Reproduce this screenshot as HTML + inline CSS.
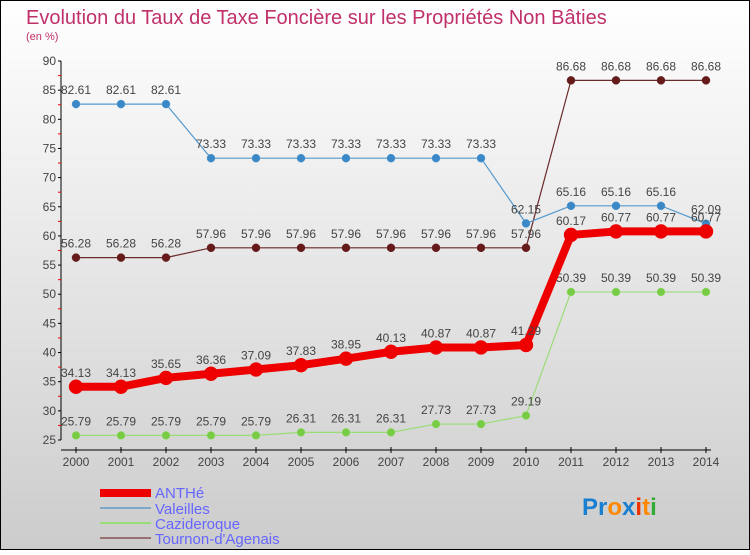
<!DOCTYPE html>
<html><head><meta charset="utf-8"><style>
body{margin:0}
#c{width:750px;height:550px;position:relative;font-family:"Liberation Sans",sans-serif}
</style></head><body>
<div id="c">
<svg width="750" height="550" id="svg">
<defs><linearGradient id="bg" x1="0" y1="0" x2="0" y2="1"><stop offset="0" stop-color="#ffffff"/><stop offset="1" stop-color="#cccccc"/></linearGradient></defs>
<rect x="0.5" y="0.5" width="749" height="549" fill="url(#bg)" stroke="#000"/>
<text x="26" y="24" font-size="20" fill="#c0306a">Evolution du Taux de Taxe Foncière sur les Propriétés Non Bâties</text>
<text x="26" y="40" font-size="11" fill="#c0306a">(en %)</text>
<g id="axes"></g><g id="series"></g>
<g>
<rect x="100" y="489" width="51" height="8" fill="#ee0000"/>
<text x="155" y="498" font-size="15" fill="#6666ff">ANTHé</text>
<rect x="100" y="507" width="51" height="2" fill="#7fa8c8"/>
<text x="155" y="514" font-size="15" fill="#6666ff">Valeilles</text>
<rect x="100" y="522" width="51" height="2" fill="#99dd77"/>
<text x="155" y="529" font-size="15" fill="#6666ff">Cazideroque</text>
<rect x="100" y="537" width="51" height="2" fill="#997070"/>
<text x="155" y="544" font-size="15" fill="#6666ff">Tournon-d'Agenais</text>
</g>
<text x="582" y="515" font-size="24" font-weight="bold"><tspan fill="#1a7fd0">Pr</tspan><tspan fill="#ff8800">o</tspan><tspan fill="#1a7fd0">x</tspan><tspan fill="#ee3300">i</tspan><tspan fill="#ff8800">t</tspan><tspan fill="#33aa33">i</tspan></text>
</svg>
</div>
<script>
const years=[2000,2001,2002,2003,2004,2005,2006,2007,2008,2009,2010,2011,2012,2013,2014];
const yTicks=[25,30,35,40,45,50,55,60,65,70,75,80,85,90];
const anthe=[34.13,34.13,35.65,36.36,37.09,37.83,38.95,40.13,40.87,40.87,41.29,60.17,60.77,60.77,60.77];
const valeilles=[82.61,82.61,82.61,73.33,73.33,73.33,73.33,73.33,73.33,73.33,62.15,65.16,65.16,65.16,62.09];
const cazideroque=[25.79,25.79,25.79,25.79,25.79,26.31,26.31,26.31,27.73,27.73,29.19,50.39,50.39,50.39,50.39];
const tournon=[56.28,56.28,56.28,57.96,57.96,57.96,57.96,57.96,57.96,57.96,57.96,86.68,86.68,86.68,86.68];
const NS="http://www.w3.org/2000/svg";
const X=i=>76+i*45;
const Y=v=>440-(v-25)*(379/65);
function mk(t,a,p){const e=document.createElementNS(NS,t);for(const k in a)e.setAttribute(k,a[k]);p.appendChild(e);return e;}
const ax=document.getElementById('axes');
mk('line',{x1:61,y1:61,x2:61,y2:440,stroke:'#000'},ax);
mk('line',{x1:61,y1:450,x2:711,y2:450,stroke:'#000'},ax);
yTicks.forEach((v,k)=>{
  mk('line',{x1:58,y1:Y(v),x2:61,y2:Y(v),stroke:'#000'},ax);
  if(k<yTicks.length-1) mk('line',{x1:58,y1:Y(v+2.5),x2:61,y2:Y(v+2.5),stroke:'#e00'},ax);
  const t=mk('text',{x:56,y:Y(v)+4,'font-size':12,fill:'#444','text-anchor':'end'},ax);
  t.textContent=v;
  
  
});
years.forEach((y,i)=>{
  mk('line',{x1:X(i),y1:447,x2:X(i),y2:453,stroke:'#000'},ax);
  const t=mk('text',{x:X(i),y:466,'font-size':12,fill:'#444','text-anchor':'middle'},ax);
  t.textContent=y;
  
  
});
const sg=document.getElementById('series');
function draw(vals,color,dot,w,r,name){
  const g=mk('g',{},sg);
  
  
  const pl=mk('polyline',{points:vals.map((v,i)=>X(i)+','+Y(v)).join(' '),fill:'none',stroke:color,'stroke-width':w,'stroke-linejoin':'round'},g);
  
  
  vals.forEach((v,i)=>{
    const c=mk('circle',{cx:X(i),cy:Y(v),r:r,fill:dot,stroke:color,'stroke-width':0.5},g);
    
    
    const t=mk('text',{x:X(i),y:Y(v)-10,'font-size':12,fill:'#444','text-anchor':'middle'},g);
    t.textContent=v.toFixed(2);
    
    
  });
}
draw(tournon,'#6b2a2a','#661a1a',1.2,4,'tournon');
draw(valeilles,'#5599cc','#3a88c8',1.2,4,'valeilles');
draw(cazideroque,'#99dd77','#77cc44',1.2,4,'cazideroque');
draw(anthe,'#ee0000','#ee0000',8,7,'anthe');
</script>
</body></html>
